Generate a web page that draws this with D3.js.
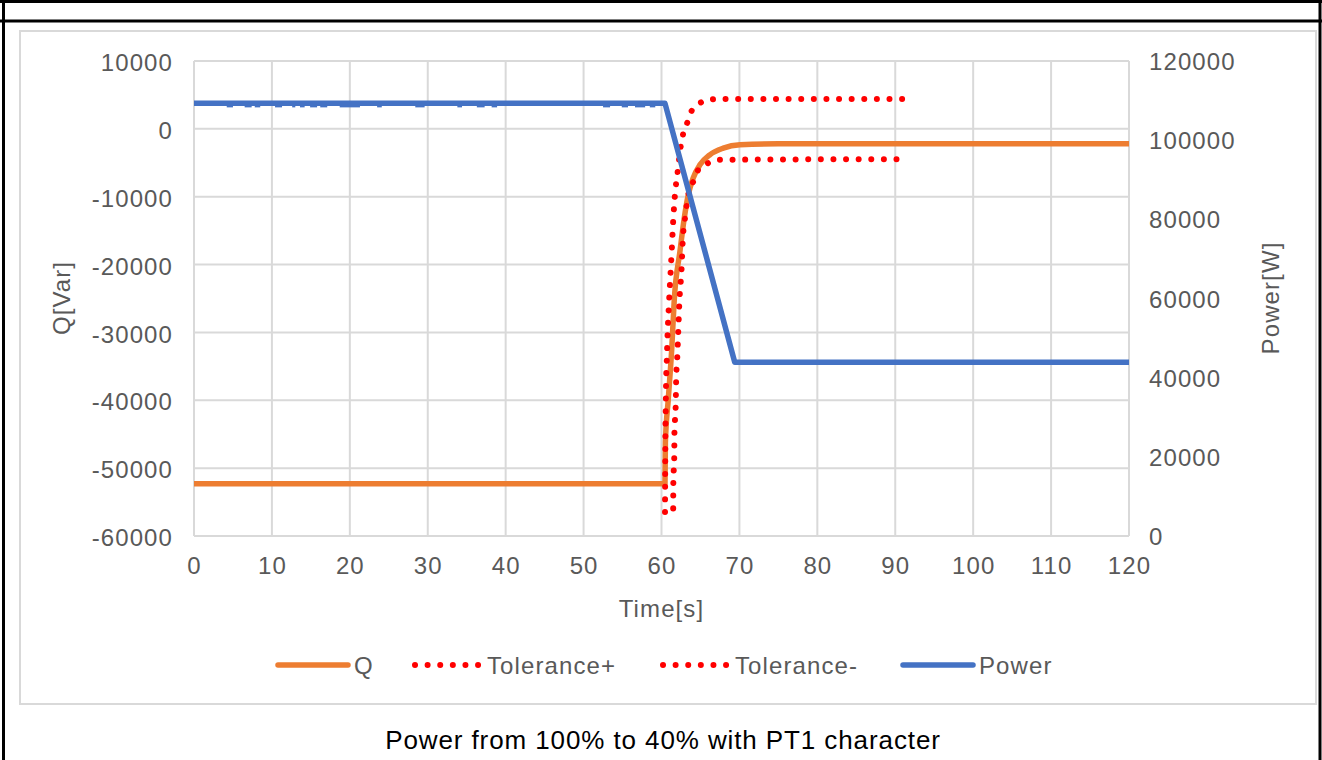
<!DOCTYPE html>
<html>
<head>
<meta charset="utf-8">
<script src="https://cdn.jsdelivr.net/npm/d3@7"></script>
<style>
  html, body { margin: 0; padding: 0; background: #fff; }
  svg { display: block; }
</style>
</head>
<body>
<svg id="chart"></svg>
<script>
// tick labels
const timeTicks = [0, 10, 20, 30, 40, 50, 60, 70, 80, 90, 100, 110, 120];
const qTicks = [10000, 0, -10000, -20000, -30000, -40000, -50000, -60000];
const powerTicks = [0, 20000, 40000, 60000, 80000, 100000, 120000];

// series, [time s, value]
const qSeries = [
  [0, -52300], [60.45, -52300], [60.5, -46200], [60.87, -39850], [61.31, -32500],
  [61.64, -25150], [62.37, -18040], [62.93, -13090], [63.44, -9700], [64.08, -7200],
  [64.93, -5300], [66.2, -3820], [67.93, -2840], [70.07, -2350], [75, -2200], [120, -2200]
];
const tolPlus = [
  [60.45, -56470], [60.5, -45250], [60.54, -41320], [60.58, -37900], [60.67, -34410],
  [60.79, -30000], [60.95, -26000], [61.31, -18040], [61.51, -13380], [61.73, -9710],
  [62.08, -6280], [62.5, -2350], [62.8, -630], [63.36, 1070], [63.87, 2650],
  [64.72, 3630], [66.0, 4260], [67.5, 4410], [91.0, 4400]
];
const tolMinus = [
  [61.5, -55930], [61.52, -52100], [61.64, -48190], [61.66, -44750], [61.82, -40840],
  [61.88, -37160], [62.03, -33480], [62.16, -29560], [62.28, -25880], [62.59, -20250],
  [62.72, -16570], [63.02, -13130], [63.44, -9710], [64.08, -7750], [64.72, -6030],
  [66.0, -5040], [67.29, -4560], [91.0, -4460]
];
const powerSeries = [[0, 109300], [60.45, 109300], [69.4, 43900], [120, 43900]];
// short measurement dips on the power line [from s, to s]
const powerDips = [
  [4.2, 5.0], [6.5, 7.4], [7.8, 8.5], [10.4, 11.3], [12.6, 13.0], [13.6, 14.2],
  [14.9, 15.8], [16.2, 17.1], [18.7, 21.3], [23.5, 24.1], [28.4, 29.6], [33.8, 34.4],
  [36.3, 37.3], [38.2, 38.9], [52.5, 53.4], [54.9, 55.7], [56.6, 57.9], [58.5, 59.2]
];
const powerDipValue = 108600;

const legendItems = [
  { name: 'Q', color: '#ED7D31', dotted: false },
  { name: 'Tolerance+', color: '#FF0000', dotted: true },
  { name: 'Tolerance-', color: '#FF0000', dotted: true },
  { name: 'Power', color: '#4472C4', dotted: false }
];

const width = 1322;
const height = 760;
const margin = { top: 61, right: 193, bottom: 224, left: 194 };
const font = "'Liberation Sans', Arial, sans-serif";
const textColor = '#595959';
const gridColor = '#d9d9d9';

const svg = d3.select('#chart')
  .attr('width', width)
  .attr('height', height)
  .style('background', '#fff');

// page frame
const frame = svg.append('g').attr('stroke', '#000').attr('stroke-width', 3);
frame.append('line').attr('x1', 0).attr('x2', width).attr('y1', 1.5).attr('y2', 1.5);
frame.append('line').attr('x1', 0).attr('x2', width).attr('y1', 21).attr('y2', 21);
frame.append('line').attr('x1', 3.5).attr('x2', 3.5).attr('y1', 0).attr('y2', height);
frame.append('line').attr('x1', 1320).attr('x2', 1320).attr('y1', 0).attr('y2', height);

// chart area box
svg.append('rect')
  .attr('x', 20).attr('y', 31)
  .attr('width', 1296).attr('height', 673)
  .attr('fill', '#fff')
  .attr('stroke', gridColor)
  .attr('stroke-width', 2);

const x = d3.scaleLinear()
  .domain([0, 120])
  .range([margin.left, width - margin.right]);

const yQ = d3.scaleLinear()
  .domain([-60000, 10000])
  .range([height - margin.bottom, margin.top]);

const yP = d3.scaleLinear()
  .domain([0, 120000])
  .range([height - margin.bottom, margin.top]);

// grid
const grid = svg.append('g').attr('stroke', gridColor).attr('stroke-width', 2);
grid.selectAll('.gx')
  .data(timeTicks)
  .join('line')
  .attr('x1', d => x(d)).attr('x2', d => x(d))
  .attr('y1', yQ(10000)).attr('y2', yQ(-60000));
grid.selectAll('.gy')
  .data(qTicks)
  .join('line')
  .attr('x1', x(0)).attr('x2', x(120))
  .attr('y1', d => yQ(d)).attr('y2', d => yQ(d));

// axes (labels only, Excel style)
const fmt = d => (d < 0 ? '-' : '') + Math.abs(d);

const axisText = (g) => g
  .attr('font-family', font)
  .attr('font-size', 24)
  .attr('letter-spacing', 1.1)
  .attr('fill', textColor);

const leftAxis = svg.append('g')
  .attr('transform', `translate(${x(0)},0)`)
  .call(d3.axisLeft(yQ).tickValues(qTicks).tickFormat(fmt).tickSize(0).tickPadding(21));
leftAxis.select('.domain').remove();
leftAxis.selectAll('text').call(axisText).attr('dy', '0.4em').style('font-size', '24px');

const rightAxis = svg.append('g')
  .attr('transform', `translate(${x(120)},0)`)
  .call(d3.axisRight(yP).tickValues(powerTicks).tickFormat(d3.format('d')).tickSize(0).tickPadding(20));
rightAxis.select('.domain').remove();
rightAxis.selectAll('text').call(axisText).attr('dy', '0.36em').style('font-size', '24px');

const bottomAxis = svg.append('g')
  .attr('transform', `translate(0,${yQ(-60000)})`)
  .call(d3.axisBottom(x).tickValues(timeTicks).tickFormat(d3.format('d')).tickSize(0).tickPadding(31));
bottomAxis.select('.domain').remove();
bottomAxis.selectAll('text').call(axisText).attr('dy', '0.3em').style('font-size', '24px');

// axis titles
svg.append('text')
  .attr('transform', `translate(70,298) rotate(-90)`)
  .attr('text-anchor', 'middle')
  .call(axisText)
  .text('Q[Var]');

svg.append('text')
  .attr('transform', `translate(1279,298) rotate(-90)`)
  .attr('text-anchor', 'middle')
  .call(axisText)
  .text('Power[W]');

svg.append('text')
  .attr('x', x(60))
  .attr('y', 617)
  .attr('text-anchor', 'middle')
  .call(axisText)
  .text('Time[s]');

// series
const lineQ = d3.line().x(d => x(d[0])).y(d => yQ(d[1])).curve(d3.curveMonotoneX);
const lineP = d3.line().x(d => x(d[0])).y(d => yP(d[1]));

svg.append('path')
  .attr('d', lineQ(qSeries))
  .attr('fill', 'none')
  .attr('stroke', '#ED7D31')
  .attr('stroke-width', 5.5)
  .attr('stroke-linejoin', 'round');

[tolPlus, tolMinus].forEach(s => {
  svg.append('path')
    .attr('d', lineQ(s))
    .attr('fill', 'none')
    .attr('stroke', '#FF0000')
    .attr('stroke-width', 6)
    .attr('stroke-linecap', 'round')
    .attr('stroke-dasharray', '0.01 12.6');
});

svg.append('g')
  .selectAll('line')
  .data(powerDips)
  .join('line')
  .attr('x1', d => x(d[0])).attr('x2', d => x(d[1]))
  .attr('y1', yP(powerDipValue)).attr('y2', yP(powerDipValue))
  .attr('stroke', '#4472C4')
  .attr('stroke-width', 2.5);

svg.append('path')
  .attr('d', lineP(powerSeries))
  .attr('fill', 'none')
  .attr('stroke', '#4472C4')
  .attr('stroke-width', 5.5)
  .attr('stroke-linejoin', 'round');

// legend
const legendX = [278, 412, 660, 903];
const legend = svg.append('g')
  .selectAll('g')
  .data(legendItems)
  .join('g')
  .attr('transform', (d, i) => `translate(${legendX[i]},665)`);

legend.append('line')
  .attr('x1', d => d.dotted ? 3 : 0)
  .attr('x2', 70)
  .attr('stroke', d => d.color)
  .attr('stroke-width', d => d.dotted ? 6 : 5.5)
  .attr('stroke-linecap', 'round')
  .attr('stroke-dasharray', d => d.dotted ? '0.01 12.6' : null);

legend.append('text')
  .attr('x', d => d.dotted ? 75 : 76)
  .attr('dy', '0.36em')
  .call(axisText)
  .text(d => d.name);

// caption
svg.append('text')
  .attr('x', 663)
  .attr('y', 740)
  .attr('dy', '0.36em')
  .attr('text-anchor', 'middle')
  .attr('font-family', font)
  .attr('font-size', 26)
  .attr('letter-spacing', 0.9)
  .attr('fill', '#000')
  .text('Power from 100% to 40% with PT1 character');
</script>
</body>
</html>
